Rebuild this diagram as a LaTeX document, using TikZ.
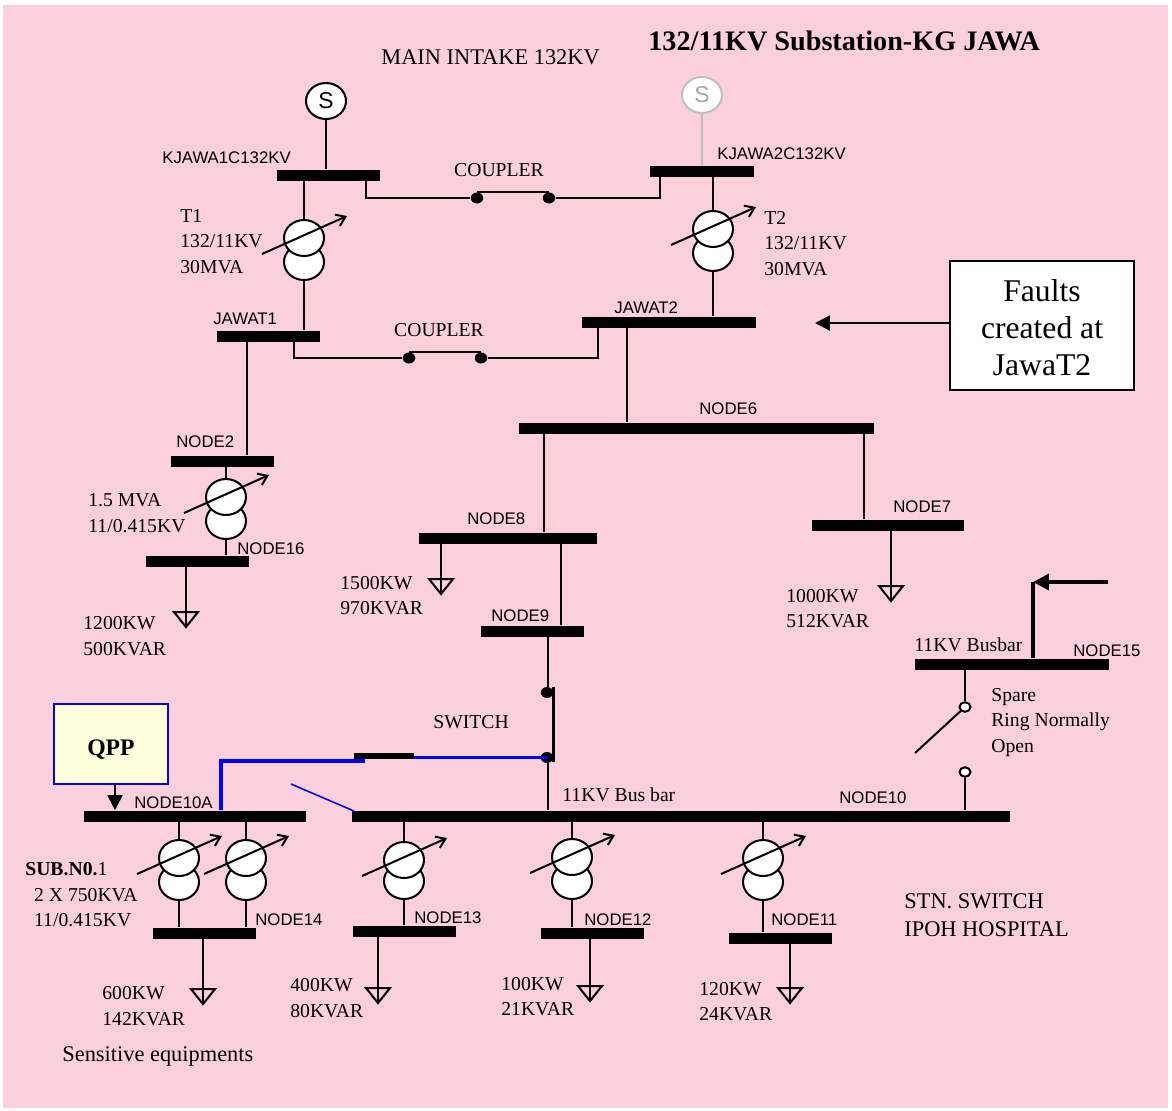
\documentclass[tikz,border=0pt]{standalone}
\usepackage{fontspec}
\setmainfont{Liberation Serif}
\newfontfamily\arialfont{Liberation Sans}
\usetikzlibrary{shapes.geometric,arrows.meta}

\definecolor{sheetpink}{HTML}{FBCFDB}
\definecolor{qppyellow}{HTML}{FFFFDD}
\tikzset{
    wire/.style={line width=1.15pt},
    busbar/.style={fill=black, inner sep=0pt, minimum height=0.22cm, minimum width=#1*0.02cm},
    coil/.style={ellipse, draw, line width=1.15pt, fill=white, inner sep=0pt, minimum width=0.8cm, minimum height=0.72cm},
    contact/.style={ellipse, fill=black, inner sep=0pt, minimum width=0.25cm, minimum height=0.22cm},
    opencontact/.style={ellipse, draw, line width=1.15pt, fill=white, inner sep=0pt, minimum width=0.22cm, minimum height=0.19cm},
    lab/.style={anchor=west, align=left, inner sep=0pt, font=\fontsize{11.2}{14.5}\selectfont},
    biglab/.style={anchor=west, align=left, inner sep=0pt, font=\fontsize{12.75}{15.9}\selectfont},
    nodelab/.style={anchor=west, inner sep=0pt, font=\arialfont\fontsize{9.55}{11}\selectfont},
}
% transformer: name, x, y of the upper coil, optional distance to the lower coil
\newcommand{\xfmr}[4][24]{
    \node[coil] (#2l) at (#3,#4+#1) {};
    \node[coil] (#2u) at (#3,#4) {};
    \draw[wire, -{Straight Barb[length=5pt,width=7pt]}, shift={(#3,#4)}] (-42,16) -- (43,-22);
}
% load: name, x, y of the tip
\newcommand{\loadsym}[3]{
    \coordinate (#1) at (#2,#3);
    \draw[wire, shift={(#2,#3)}] (-12,-15) -- (12,-15) -- (0,0) -- cycle;
}

\begin{document}
\begin{tikzpicture}[x=0.02cm, y=-0.02cm]
    \useasboundingbox (0,0) rectangle (1172,1110);
    \fill[sheetpink] (3,5) rectangle (1168,1108);

    % Busbars
    \node[busbar=103] (kjawa1) at (328,175) {};
    \node[busbar=104] (kjawa2) at (702,171) {};
    \node[busbar=103] (jawat1) at (268,336) {};
    \node[busbar=174] (jawat2) at (669,322) {};
    \node[busbar=355] (node6) at (696,428) {};
    \node[busbar=103] (node2) at (222.5,461) {};
    \node[busbar=103] (node16) at (197.5,561) {};
    \node[busbar=178] (node8) at (508,538) {};
    \node[busbar=152] (node7) at (888,525) {};
    \node[busbar=103] (node9) at (532.5,631) {};
    \node[busbar=194] (node15) at (1012,664) {};
    \node[busbar=222] (node10a) at (195,816) {};
    \node[busbar=658] (node10) at (681,816) {};
    \node[busbar=103] (node14) at (204,933) {};
    \node[busbar=103] (node13) at (404.5,931) {};
    \node[busbar=103] (node12) at (592.5,933) {};
    \node[busbar=103] (node11) at (780.5,938) {};

    % Sources
    \node[ellipse, draw, wire, fill=white, inner sep=0pt, minimum width=0.8cm, minimum height=0.72cm, font=\arialfont\fontsize{13}{13}\selectfont] (src1) at (326,101) {S};
    \node[ellipse, draw=black!25, wire, fill=white, text=black!35, inner sep=0pt, minimum width=0.8cm, minimum height=0.72cm, font=\arialfont\fontsize{13}{13}\selectfont] (src2) at (702,95) {S};
    \draw[wire] (src1.south) -- (src1.south |- kjawa1.north);
    \draw[wire, black!25] (src2.south) -- (src2.south |- kjawa2.north);

    % Transformers
    \xfmr{t1}{304}{238}
    \xfmr{t2}{713}{229}
    \xfmr{t3}{226}{497}
    \xfmr{t4}{179}{858}
    \xfmr{t5}{246}{858}
    \xfmr[21]{t6}{404}{860}
    \xfmr{t7}{572}{857}
    \xfmr{t8}{763}{858}
    \foreach \tr/\up/\down in {t1/kjawa1/jawat1, t2/kjawa2/jawat2, t3/node2/node16, t4/node10a/node14, t5/node10a/node14, t6/node10/node13, t7/node10/node12, t8/node10/node11}{
        \draw[wire] (\tr u.north) -- (\tr u.north |- \up.south);
        \draw[wire] (\tr l.south) -- (\tr l.south |- \down.north);
    }

    % Loads
    \loadsym{load1}{186}{627}
    \loadsym{load2}{441}{594}
    \loadsym{load3}{891}{601}
    \loadsym{load4}{203}{1004}
    \loadsym{load5}{378}{1003}
    \loadsym{load6}{590}{1001}
    \loadsym{load7}{790}{1003}
    \foreach \ld/\bs in {load1/node16, load2/node8, load3/node7, load4/node14, load5/node13, load6/node12, load7/node11}{
        \draw[wire] (\ld) -- (\ld |- \bs.south);
    }

    % Couplers
    \node[contact] (c1a) at (477,198) {};
    \node[contact] (c1b) at (549,198) {};
    \node[contact] (c2a) at (409,358) {};
    \node[contact] (c2b) at (481,358) {};
    \coordinate (tap1) at (366,198);
    \coordinate (tap2) at (660,198);
    \coordinate (tap3) at (294,358);
    \coordinate (tap4) at (598,358);
    \draw[wire] (tap1 |- kjawa1.south) -- (tap1) -- (c1a);
    \draw[wire] (c1a.north) -- (c1b.north);
    \draw[wire] (c1b) -- (tap2) -- (tap2 |- kjawa2.south);
    \draw[wire] (tap3 |- jawat1.south) -- (tap3) -- (c2a);
    \draw[wire] (c2a.north) -- (c2b.north);
    \draw[wire] (c2b) -- (tap4) -- (tap4 |- jawat2.south);

    % Feeders
    \coordinate (f1) at (247,400);
    \coordinate (f2) at (627,400);
    \coordinate (f3) at (544,480);
    \coordinate (f4) at (864,480);
    \coordinate (f5) at (561,600);
    \draw[wire] (f1 |- jawat1.south) -- (f1 |- node2.north);
    \draw[wire] (f2 |- jawat2.south) -- (f2 |- node6.north);
    \draw[wire] (f3 |- node6.south) -- (f3 |- node8.north);
    \draw[wire] (f4 |- node6.south) -- (f4 |- node7.north);
    \draw[wire] (f5 |- node8.south) -- (f5 |- node9.north);

    % Switch below NODE9
    \node[contact] (sw1) at (547,692.5) {};
    \node[contact] (sw2) at (547,757.5) {};
    \coordinate (sw0) at (548.3,700);
    \coordinate (sw3) at (553.5,687);
    \coordinate (sw4) at (553.5,762);
    \draw[wire] (sw0 |- node9.south) -- (sw0 |- sw1.north);
    \draw[wire] (sw0 |- sw2.south) -- (sw0 |- node10.north);
    \draw[wire] (sw3) -- (sw4);

    % Link to NODE10A
    \coordinate (lnk1) at (221,761);
    \coordinate (lnk2) at (365,761);
    \coordinate (lnk3) at (354,756);
    \coordinate (lnk4) at (414,756);
    \coordinate (lnk5) at (291,784);
    \coordinate (lnk6) at (354,811);
    \coordinate (lnk7) at (413,757.5);
    \draw[blue, line width=2.3pt] (lnk1 |- node10a.north) -- (lnk1) -- (lnk2);
    \draw[blue, line width=2.1pt] (lnk7) -- (lnk7 -| sw0);
    \draw[line width=3.4pt] (lnk3) -- (lnk4);
    \draw[blue, line width=0.9pt] (lnk5) -- (lnk6);

    % Ring switch
    \node[opencontact] (op1) at (965,707) {};
    \node[opencontact] (op2) at (965,772) {};
    \coordinate (blade) at (915,753);
    \draw[wire] (op1 |- node15.south) -- (op1.north);
    \draw[wire] (op2.south) -- (op2 |- node10.north);
    \draw[wire] (op1) -- (blade);

    % Incoming at NODE15
    \coordinate (inc1) at (1033,582);
    \coordinate (inc2) at (1108,582);
    \draw[line width=2.2pt] (inc1 |- node15.north) -- (inc1);
    \draw[line width=1.8pt, -{Triangle[length=9pt,width=9pt]}] (inc2) -- (inc1);

    % Fault box
    \node[draw, wire, fill=white, inner sep=0pt, minimum width=3.68cm, minimum height=2.58cm] (fault) at (1042,325.5) {};
    \node[align=center, inner sep=0pt, font=\fontsize{18}{21}\selectfont] (lfault) at (1042,328) {Faults\\created at\\JawaT2};
    \coordinate (faultend) at (815,323);
    \draw[wire, -{Triangle[length=8.5pt,width=8.5pt]}] (fault.west |- faultend) -- (faultend);

    % QPP box
    \node[draw=blue, wire, fill=qppyellow, inner sep=0pt, minimum width=2.28cm, minimum height=1.6cm] (qpp) at (111,744) {};
    \node[inner sep=0pt, font=\bfseries\fontsize{13.5}{16}\selectfont] (lqpp) at (111,750) {QPP};
    \coordinate (qppin) at (115,800);
    \draw[wire, -{Triangle[length=8.5pt,width=8.5pt]}] (qppin |- qpp.south) -- (qppin |- node10a.north);

    % Labels
    \node[biglab] (lmain) at (381,57) {MAIN INTAKE 132KV};
    \node[lab, font=\bfseries\fontsize{16.05}{18}\selectfont] (ltitle) at (648,41) {132/11KV Substation-KG JAWA};
    \node[lab, anchor=center] (lcp1) at (499,170) {COUPLER};
    \node[lab, anchor=center] (lcp2) at (439,330) {COUPLER};
    \node[lab] (lt1) at (180,241.5) {T1\\132/11KV\\30MVA};
    \node[lab] (lt2) at (764,243.5) {T2\\132/11KV\\30MVA};
    \node[lab] (lt3) at (88,513) {1.5 MVA\\11/0.415KV};
    \node[lab] (ll1) at (83,636) {1200KW\\500KVAR};
    \node[lab] (ll2) at (340,595.5) {1500KW\\970KVAR};
    \node[lab] (ll3) at (786,608.5) {1000KW\\512KVAR};
    \node[lab] (lbb) at (914,645) {11KV Busbar};
    \node[lab] (lsp) at (991,722.5) {Spare\\Ring Normally\\Open};
    \node[lab] (lsw) at (433,722) {SWITCH};
    \node[lab] (lbus) at (562,795) {11KV Bus bar};
    \node[lab] (lsub) at (25,895) {\textbf{SUB.N0.}1\\\hspace*{5pt}2 X 750KVA\\\hspace*{5pt}11/0.415KV};
    \node[biglab] (lstn) at (904,915) {STN. SWITCH\\IPOH HOSPITAL};
    \node[lab] (ll4) at (102,1006) {600KW\\142KVAR};
    \node[lab] (ll5) at (290,998) {400KW\\80KVAR};
    \node[lab] (ll6) at (501,996.5) {100KW\\21KVAR};
    \node[lab] (ll7) at (699,1001.5) {120KW\\24KVAR};
    \node[biglab] (lsens) at (62,1056) {Sensitive equipments};

    \node[nodelab] (nk1) at (162,158) {KJAWA1C132KV};
    \node[nodelab] (nk2) at (717,154) {KJAWA2C132KV};
    \node[nodelab] (nj1) at (213,319) {JAWAT1};
    \node[nodelab] (nj2) at (614,308) {JAWAT2};
    \node[nodelab] (n6) at (699,409) {NODE6};
    \node[nodelab] (n2) at (176,442) {NODE2};
    \node[nodelab] (n8) at (467,519) {NODE8};
    \node[nodelab] (n7) at (893,507) {NODE7};
    \node[nodelab] (n9) at (491,616) {NODE9};
    \node[nodelab] (n16) at (237,549) {NODE16};
    \node[nodelab] (n15) at (1073,651) {NODE15};
    \node[nodelab] (n10) at (839,798) {NODE10};
    \node[nodelab] (n10a) at (134,803) {NODE10A};
    \node[nodelab] (n14) at (255,920) {NODE14};
    \node[nodelab] (n13) at (414,918) {NODE13};
    \node[nodelab] (n12) at (584,920) {NODE12};
    \node[nodelab] (n11) at (771,920) {NODE11};
\end{tikzpicture}
\end{document}
